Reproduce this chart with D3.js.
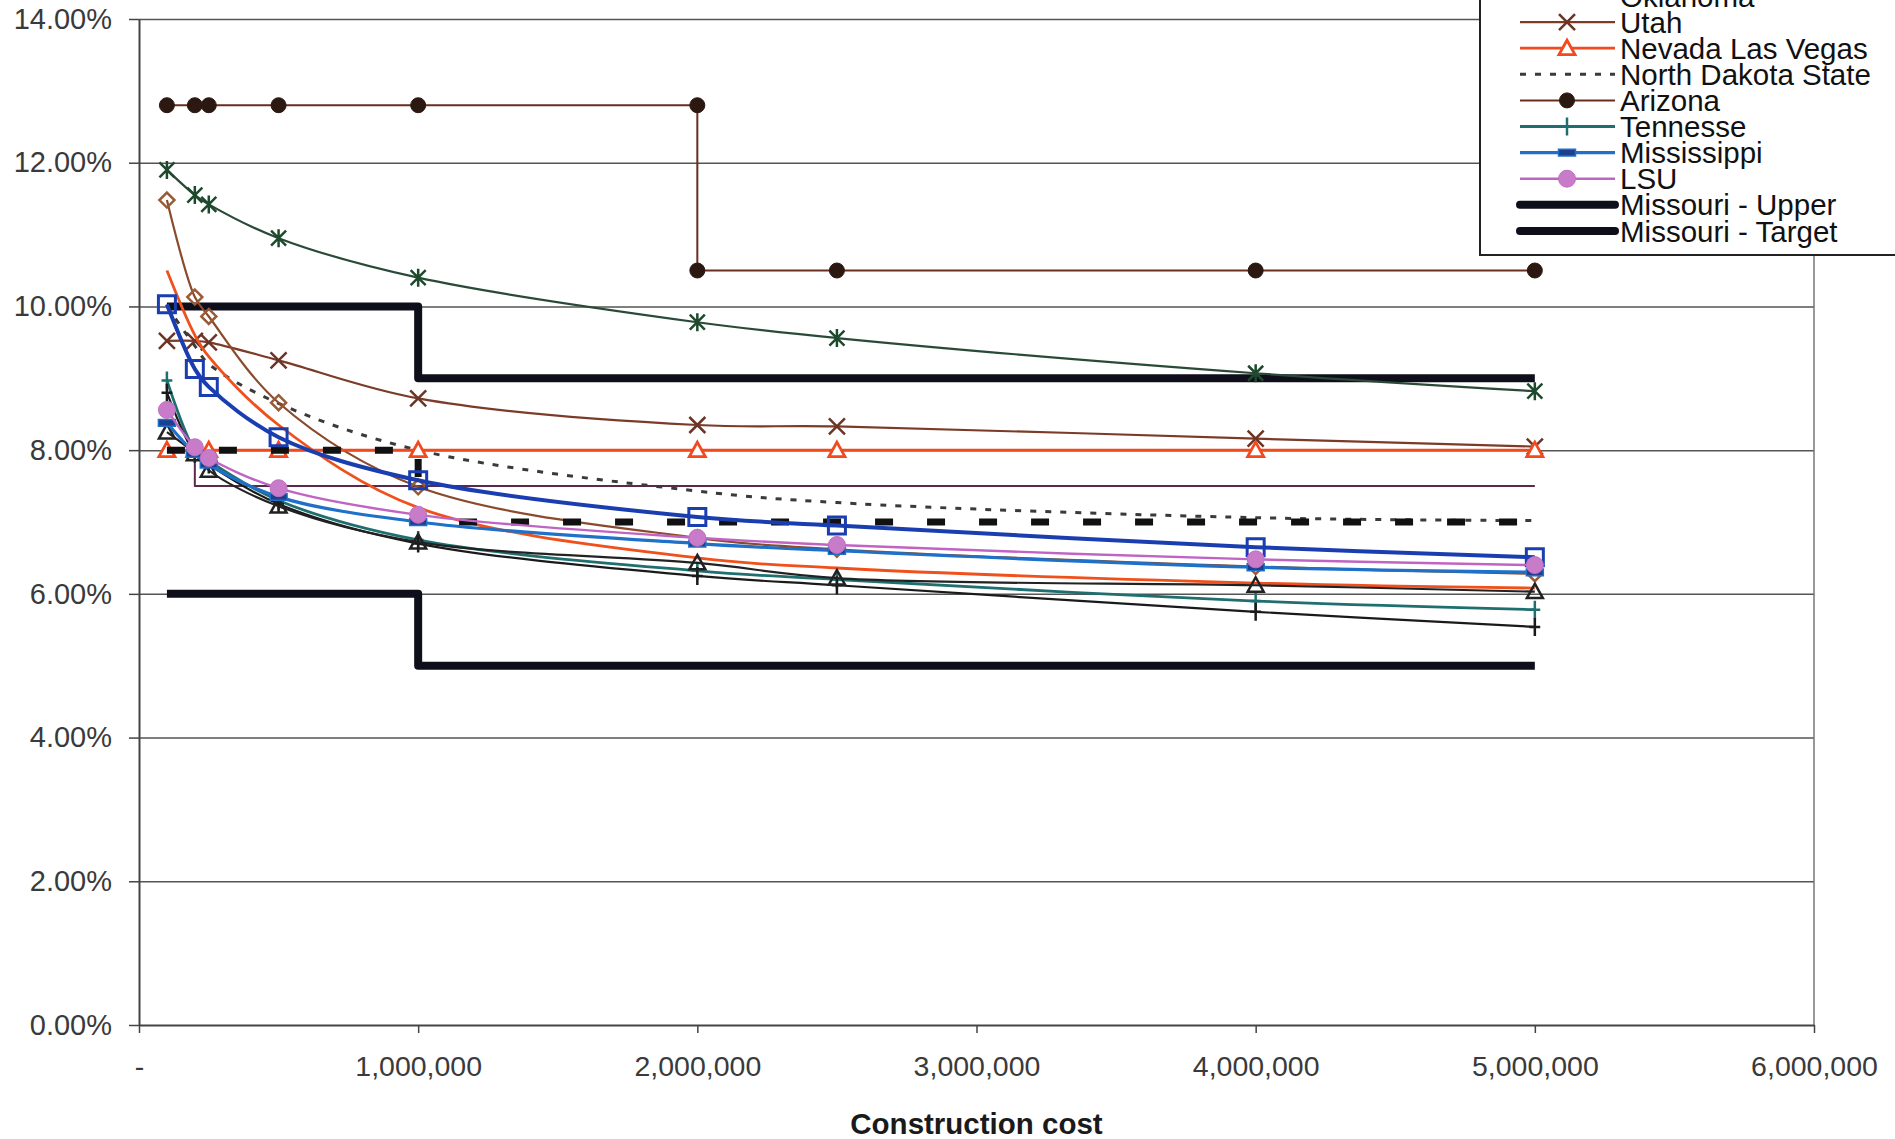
<!DOCTYPE html>
<html>
<head>
<meta charset="utf-8">
<script src="https://cdn.jsdelivr.net/npm/d3@7"></script>
<style>
  body { margin: 0; background: #fff; }
  text { font-family: "Liberation Sans", Arial, sans-serif; }
</style>
</head>
<body>
<svg id="chart" width="1895" height="1139"></svg>
<script>
// ---- data (percent values) ----
var costs = [100000, 200000, 250000, 500000, 1000000, 2000000, 2500000, 4000000, 5000000];

var asteriskRates = [11.9, 11.55, 11.42, 10.95, 10.4, 9.78, 9.56, 9.07, 8.82];
var diamondRates  = [11.48, 10.13, 9.86, 8.66, 7.49, 6.78, 6.62, 6.38, 6.28];
var squareRates   = [10.03, 9.13, 8.88, 8.18, 7.58, 7.07, 6.95, 6.65, 6.51];
var orangeRates   = [10.5, 9.6, 9.3, 8.35, 7.2, 6.5, 6.36, 6.15, 6.08];
var utahRates     = [9.52, 9.52, 9.5, 9.25, 8.72, 8.35, 8.33, 8.16, 8.05];
var nevadaRates   = [8, 8, 8, 8, 8, 8, 8, 8, 8];
var ndRates       = [10.0, 9.45, 9.2, 8.65, 8.0, 7.43, 7.27, 7.06, 7.02];
var tennRates     = [8.97, 8.0, 7.85, 7.3, 6.75, 6.32, 6.2, 5.9, 5.78];
var plusRates     = [8.8, 7.95, 7.8, 7.25, 6.7, 6.25, 6.12, 5.75, 5.54];
var triRates      = [8.25, 7.95, 7.72, 7.22, 6.72, 6.43, 6.22, 6.12, 6.03];
var missRates     = [8.38, 7.95, 7.8, 7.35, 7.0, 6.7, 6.6, 6.37, 6.3];
var lsuRates      = [8.56, 8.04, 7.89, 7.47, 7.1, 6.78, 6.68, 6.48, 6.4];

var arizonaCosts = [100000, 200000, 250000, 500000, 1000000, 2000000, 2000000, 2500000, 4000000, 5000000];
var arizonaRates = [12.8, 12.8, 12.8, 12.8, 12.8, 12.8, 10.5, 10.5, 10.5, 10.5];

var stepCosts     = [100000, 1000000, 1000000, 5000000];
var moUpperRates  = [10, 10, 9, 9];
var moTargetRates = [6, 6, 5, 5];
var dashedRates   = [8, 8, 7, 7];

var purpleCosts = [100000, 200000, 200000, 5000000];
var purpleRates = [8, 8, 7.5, 7.5];

var yTicks = [0, 2, 4, 6, 8, 10, 12, 14];
var xTicks = [0, 1000000, 2000000, 3000000, 4000000, 5000000, 6000000];

var legendNames = ['Oklahoma', 'Utah', 'Nevada Las Vegas', 'North Dakota State', 'Arizona',
                   'Tennesse', 'Mississippi', 'LSU', 'Missouri - Upper', 'Missouri - Target'];

// ---- layout ----
var svg = d3.select('#chart');
var plotLeft = 139, plotRight = 1814, plotTop = 19, plotBottom = 1025;

var x = d3.scaleLinear().domain([0, 6000000]).range([plotLeft, plotRight]);
var y = d3.scaleLinear().domain([0, 14]).range([plotBottom, plotTop]);

function zip(xs, ys) { return xs.map(function(v, i) { return [v, ys[i]]; }); }

function markerPath(type, s) {
    switch (type) {
        case 'x': return 'M' + (-s) + ',' + (-s) + 'L' + s + ',' + s + 'M' + (-s) + ',' + s + 'L' + s + ',' + (-s);
        case 'star': return 'M' + (-s) + ',' + (-s) + 'L' + s + ',' + s + 'M' + (-s) + ',' + s + 'L' + s + ',' + (-s) +
                            'M0,' + (-s * 1.2) + 'L0,' + (s * 1.2);
        case 'plus': return 'M0,' + (-s) + 'L0,' + s + 'M' + (-s * 0.6) + ',0L' + (s * 0.6) + ',0';
        case 'square': return 'M' + (-s) + ',' + (-s) + 'H' + s + 'V' + s + 'H' + (-s) + 'Z';
        case 'diamond': return 'M0,' + (-s) + 'L' + s + ',0L0,' + s + 'L' + (-s) + ',0Z';
        case 'triangle': return 'M0,' + (-s) + 'L' + s + ',' + (s * 0.8) + 'L' + (-s) + ',' + (s * 0.8) + 'Z';
        case 'dash': return 'M' + (-s) + ',' + (-s * 0.4) + 'H' + s + 'V' + (s * 0.4) + 'H' + (-s) + 'Z';
        case 'circle': return 'M' + s + ',0A' + s + ',' + s + ' 0 1,1 ' + (-s) + ',0A' + s + ',' + s + ' 0 1,1 ' + s + ',0Z';
    }
    return '';
}

var smooth = d3.curveCatmullRom;
var straight = d3.curveLinear;

var series = [
    { key: 'moUpper', pts: zip(stepCosts, moUpperRates), color: '#0e0f1a', width: 8, curve: straight },
    { key: 'moTarget', pts: zip(stepCosts, moTargetRates), color: '#0e0f1a', width: 8, curve: straight },
    { key: 'purple', pts: zip(purpleCosts, purpleRates), color: '#5a2a4a', width: 2, curve: straight },
    { key: 'arizona', pts: zip(arizonaCosts, arizonaRates), color: '#6b2e1e', width: 2, curve: straight,
      marker: { type: 'circle', s: 7.5, fill: '#2b1810', stroke: '#2b1810', sw: 1 } },
    { key: 'asterisk', pts: zip(costs, asteriskRates), color: '#2a4a38', width: 2.2, curve: smooth,
      marker: { type: 'star', s: 7.5, fill: 'none', stroke: '#1d4a2c', sw: 2.5 } },
    { key: 'utah', pts: zip(costs, utahRates), color: '#7b3b28', width: 2.2, curve: smooth,
      marker: { type: 'x', s: 8, fill: 'none', stroke: '#6b3424', sw: 2.5 } },
    { key: 'nd', pts: zip(costs, ndRates), color: '#3a3a3a', width: 3, curve: smooth, dash: '6,9' },
    { key: 'orange', pts: zip(costs, orangeRates), color: '#f0501c', width: 2.8, curve: smooth },
    { key: 'diamond', pts: zip(costs, diamondRates), color: '#8b4a2b', width: 2.2, curve: smooth,
      marker: { type: 'diamond', s: 7.5, fill: 'none', stroke: '#9a5a35', sw: 2.5 } },
    { key: 'nevada', pts: zip(costs, nevadaRates), color: '#f04a1e', width: 2.8, curve: straight,
      marker: { type: 'triangle', s: 8, fill: '#fff', stroke: '#f04a1e', sw: 2.8 } },
    { key: 'dashed', pts: zip(stepCosts, dashedRates), color: '#111', width: 7, curve: straight, dash: '18,34' },
    { key: 'square', pts: zip(costs, squareRates), color: '#1a3eb0', width: 4, curve: smooth,
      marker: { type: 'square', s: 8.5, fill: 'none', stroke: '#1a3eb0', sw: 3 } },
    { key: 'tenn', pts: zip(costs, tennRates), color: '#1f6f70', width: 2.8, curve: smooth,
      marker: { type: 'plus', s: 9, fill: 'none', stroke: '#1f6f70', sw: 2.5 } },
    { key: 'plusBlack', pts: zip(costs, plusRates), color: '#1a1a1a', width: 2.2, curve: smooth,
      marker: { type: 'plus', s: 9, fill: 'none', stroke: '#1a1a1a', sw: 2.5 } },
    { key: 'tri', pts: zip(costs, triRates), color: '#222', width: 2.2, curve: smooth,
      marker: { type: 'triangle', s: 8, fill: 'none', stroke: '#222', sw: 2.5 } },
    { key: 'miss', pts: zip(costs, missRates), color: '#1e70c8', width: 3.2, curve: smooth,
      marker: { type: 'dash', s: 8.5, fill: '#1c3f8f', stroke: '#1e70c8', sw: 1.5 } },
    { key: 'lsu', pts: zip(costs, lsuRates), color: '#c064c4', width: 2.4, curve: smooth,
      marker: { type: 'circle', s: 8.5, fill: '#c77bc9', stroke: '#c070c0', sw: 1 } }
];

// ---- gridlines + axes ----
svg.append('g')
    .attr('transform', 'translate(' + plotLeft + ',0)')
    .call(d3.axisLeft(y).tickValues(yTicks.slice(1)).tickSize(-(plotRight - plotLeft)).tickFormat(''))
    .call(function(g) { g.select('.domain').remove(); })
    .selectAll('line').attr('stroke', '#555').attr('stroke-width', 1.5);

svg.append('line')
    .attr('x1', plotRight).attr('x2', plotRight).attr('y1', plotTop).attr('y2', plotBottom)
    .attr('stroke', '#777').attr('stroke-width', 1.5);

var yAxis = svg.append('g')
    .attr('transform', 'translate(' + plotLeft + ',0)')
    .call(d3.axisLeft(y).tickValues(yTicks).tickSizeInner(10).tickSizeOuter(0).tickPadding(17)
        .tickFormat(function(d) { return d.toFixed(2) + '%'; }));
yAxis.select('.domain').attr('stroke', '#444').attr('stroke-width', 2);
yAxis.selectAll('line').attr('stroke', '#444').attr('stroke-width', 1.5);
yAxis.selectAll('text').attr('font-size', 29).attr('fill', '#3a3a3a')
    .attr('font-family', '"Liberation Sans", Arial, sans-serif');

var xAxis = svg.append('g')
    .attr('transform', 'translate(0,' + plotBottom + ')')
    .call(d3.axisBottom(x).tickValues(xTicks).tickSizeInner(8).tickSizeOuter(0).tickPadding(23)
        .tickFormat(function(d) { return d === 0 ? '-' : d3.format(',')(d); }));
xAxis.select('.domain').attr('stroke', '#444').attr('stroke-width', 2);
xAxis.selectAll('line').attr('stroke', '#444').attr('stroke-width', 1.5);
xAxis.selectAll('text').attr('font-size', 28.5).attr('fill', '#3a3a3a')
    .attr('font-family', '"Liberation Sans", Arial, sans-serif');

svg.append('text')
    .attr('x', (plotLeft + plotRight) / 2).attr('y', 1134)
    .attr('text-anchor', 'middle')
    .attr('font-size', 29.5).attr('font-weight', 'bold').attr('fill', '#1a1a1a')
    .text('Construction cost');

// ---- series ----
var plot = svg.append('g');
series.forEach(function(s) {
    var line = d3.line()
        .x(function(d) { return x(d[0]); })
        .y(function(d) { return y(d[1]); })
        .curve(s.curve);
    plot.append('path')
        .datum(s.pts)
        .attr('d', line)
        .attr('fill', 'none')
        .attr('stroke', s.color)
        .attr('stroke-width', s.width)
        .attr('stroke-linejoin', 'round')
        .attr('stroke-dasharray', s.dash || null);
    if (s.marker) {
        plot.append('g').selectAll('path')
            .data(s.pts)
            .enter().append('path')
            .attr('transform', function(d) { return 'translate(' + x(d[0]) + ',' + y(d[1]) + ')'; })
            .attr('d', markerPath(s.marker.type, s.marker.s))
            .attr('fill', s.marker.fill)
            .attr('stroke', s.marker.stroke)
            .attr('stroke-width', s.marker.sw);
    }
});

// ---- legend (top cut off, like the scan) ----
var legendStyle = {
    'Oklahoma': series[10],
    'Utah': series[5],
    'Nevada Las Vegas': series[9],
    'North Dakota State': series[6],
    'Arizona': series[3],
    'Tennesse': series[12],
    'Mississippi': series[15],
    'LSU': series[16],
    'Missouri - Upper': series[0],
    'Missouri - Target': series[1]
};

var legend = svg.append('g').attr('transform', 'translate(1480,0)');
legend.append('rect')
    .attr('x', 0).attr('y', -60).attr('width', 500).attr('height', 315)
    .attr('fill', '#fff').attr('stroke', '#222').attr('stroke-width', 2);

var rows = legend.selectAll('g.row')
    .data(legendNames)
    .enter().append('g')
    .attr('class', 'row')
    .attr('transform', function(d, i) { return 'translate(0,' + (-4 + i * 26.1) + ')'; });

rows.each(function(name) {
    var s = legendStyle[name];
    var g = d3.select(this);
    g.append('line')
        .attr('x1', 40).attr('x2', 135).attr('y1', 0).attr('y2', 0)
        .attr('stroke', s.color)
        .attr('stroke-width', s.width)
        .attr('stroke-linecap', s.width > 5 ? 'round' : null)
        .attr('stroke-dasharray', s.key === 'dashed' ? null : (s.dash || null));
    if (s.marker) {
        g.append('path')
            .attr('transform', 'translate(87,0)')
            .attr('d', markerPath(s.marker.type, s.marker.s))
            .attr('fill', s.marker.fill)
            .attr('stroke', s.marker.stroke)
            .attr('stroke-width', s.marker.sw);
    }
    g.append('text')
        .attr('x', 140).attr('dy', '0.36em')
        .attr('font-size', 29.5).attr('fill', '#111')
        .text(name);
});
</script>
</body>
</html>
